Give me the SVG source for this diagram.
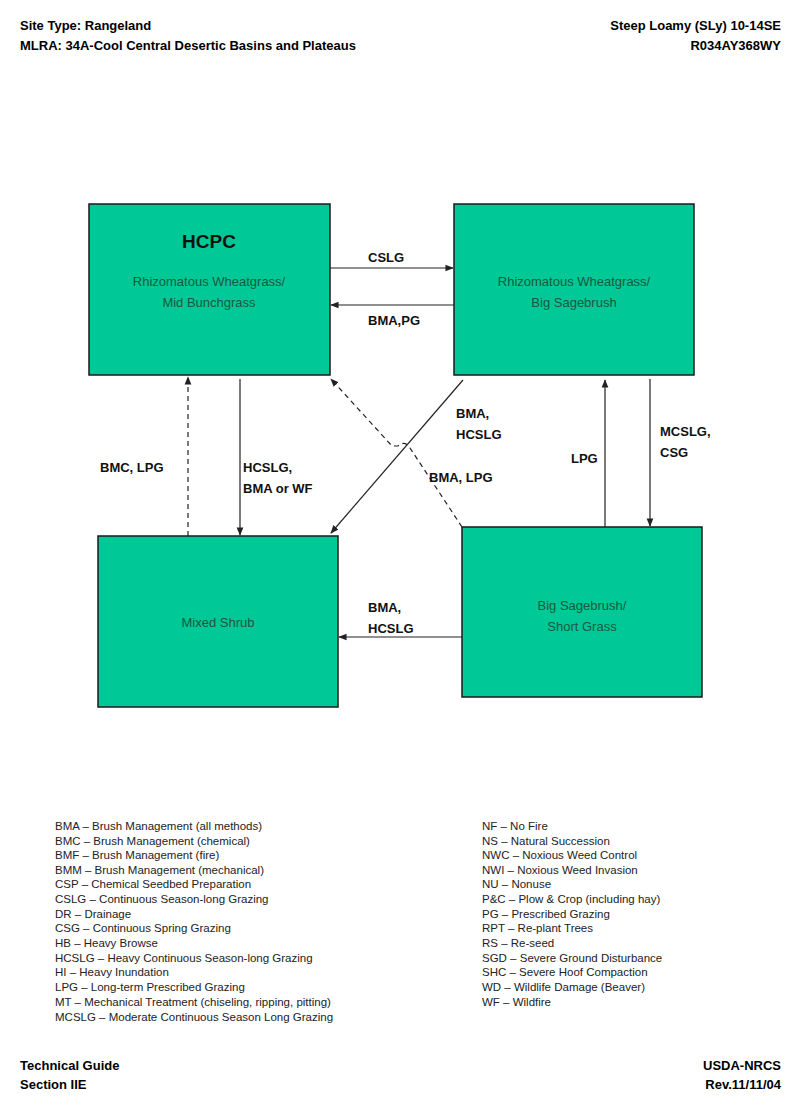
<svg xmlns="http://www.w3.org/2000/svg" width="800" height="1108" viewBox="0 0 800 1108">
<style>
.h{font-family:"Liberation Sans",Arial,sans-serif;font-weight:bold;font-size:13px;fill:#000}
.box{fill:#00c896;stroke:#1a1a1a;stroke-width:1.5}
.bt{font-family:"Liberation Sans",Arial,sans-serif;font-size:13px;fill:#1a5a40;text-anchor:middle}
.lb{font-family:"Liberation Sans",Arial,sans-serif;font-weight:bold;font-size:13px;fill:#111}
.lg{font-family:"Liberation Sans",Arial,sans-serif;font-size:11.5px;fill:#222}
.c{stroke:#222;stroke-width:1.2;fill:none}
.d{stroke-dasharray:5,4}
</style>
<defs><marker id="a" viewBox="0 0 10 10" refX="9" refY="5" markerWidth="7" markerHeight="7" orient="auto"><path d="M0,1 L10,5 L0,9 z" fill="#222"/></marker></defs>
<rect width="800" height="1108" fill="#fff"/>
<text class="h" x="20" y="30">Site Type:  Rangeland</text>
<text class="h" x="20" y="50">MLRA: 34A-Cool Central Desertic Basins and Plateaus</text>
<text class="h" x="781" y="30" text-anchor="end">Steep Loamy (SLy) 10-14SE</text>
<text class="h" x="781" y="50" text-anchor="end">R034AY368WY</text>
<g id="hcpc"><rect class="box" x="89" y="204" width="241" height="171"/>
<text x="209" y="248" text-anchor="middle" font-family="Liberation Sans,Arial,sans-serif" font-weight="bold" font-size="19" fill="#111">HCPC</text>
<text class="bt" x="209" y="286">Rhizomatous Wheatgrass/</text><text class="bt" x="209" y="307">Mid Bunchgrass</text></g>
<g id="rwbs"><rect class="box" x="454" y="204" width="240" height="171"/>
<text class="bt" x="574" y="286">Rhizomatous Wheatgrass/</text><text class="bt" x="574" y="307">Big Sagebrush</text></g>
<g id="ms"><rect class="box" x="98" y="536" width="240" height="171"/>
<text class="bt" x="218" y="627">Mixed Shrub</text></g>
<g id="bssg"><rect class="box" x="462" y="527" width="240" height="170"/>
<text class="bt" x="582" y="610">Big Sagebrush/</text><text class="bt" x="582" y="631">Short Grass</text></g>
<g id="connectors">
<line class="c" x1="330" y1="268" x2="453" y2="268" marker-end="url(#a)"/>
<line class="c" x1="454" y1="305" x2="331" y2="305" marker-end="url(#a)"/>
<line class="c d" x1="188" y1="536" x2="188" y2="377" marker-end="url(#a)"/>
<line class="c" x1="240" y1="379" x2="240" y2="535" marker-end="url(#a)"/>
<line class="c" x1="463" y1="380" x2="331" y2="533" marker-end="url(#a)"/>
<path class="c d" d="M462,527 L410,448 Q405,440 398,446 L392,446 L331,379" marker-end="url(#a)"/>
<line class="c" x1="605" y1="527" x2="605" y2="380" marker-end="url(#a)"/>
<line class="c" x1="650" y1="379" x2="650" y2="526" marker-end="url(#a)"/>
<line class="c" x1="462" y1="637" x2="339" y2="637" marker-end="url(#a)"/>
<text class="lb" x="368" y="262">CSLG</text>
<text class="lb" x="368" y="325">BMA,PG</text>
<text class="lb" x="100" y="472">BMC, LPG</text>
<text class="lb" x="243" y="472">HCSLG,</text><text class="lb" x="243" y="493">BMA or WF</text>
<text class="lb" x="456" y="418">BMA,</text><text class="lb" x="456" y="439">HCSLG</text>
<text class="lb" x="429" y="482">BMA, LPG</text>
<text class="lb" x="571" y="463">LPG</text>
<text class="lb" x="660" y="436">MCSLG,</text><text class="lb" x="660" y="457">CSG</text>
<text class="lb" x="368" y="612">BMA,</text><text class="lb" x="368" y="633">HCSLG</text>
</g>
<g class="lg">
<text x="55" y="830">BMA – Brush Management (all methods)</text>
<text x="55" y="845">BMC – Brush Management (chemical)</text>
<text x="55" y="859">BMF – Brush Management (fire)</text>
<text x="55" y="874">BMM – Brush Management (mechanical)</text>
<text x="55" y="888">CSP – Chemical Seedbed Preparation</text>
<text x="55" y="903">CSLG – Continuous Season-long Grazing</text>
<text x="55" y="918">DR – Drainage</text>
<text x="55" y="932">CSG – Continuous Spring Grazing</text>
<text x="55" y="947">HB – Heavy Browse</text>
<text x="55" y="962">HCSLG – Heavy Continuous Season-long Grazing</text>
<text x="55" y="976">HI – Heavy Inundation</text>
<text x="55" y="991">LPG – Long-term Prescribed Grazing</text>
<text x="55" y="1006">MT – Mechanical Treatment (chiseling, ripping, pitting)</text>
<text x="55" y="1021">MCSLG – Moderate Continuous Season Long Grazing</text>
<text x="482" y="830">NF – No Fire</text>
<text x="482" y="845">NS – Natural Succession</text>
<text x="482" y="859">NWC – Noxious Weed Control</text>
<text x="482" y="874">NWI – Noxious Weed Invasion</text>
<text x="482" y="888">NU – Nonuse</text>
<text x="482" y="903">P&amp;C – Plow &amp; Crop (including hay)</text>
<text x="482" y="918">PG – Prescribed Grazing</text>
<text x="482" y="932">RPT – Re-plant Trees</text>
<text x="482" y="947">RS – Re-seed</text>
<text x="482" y="962">SGD – Severe Ground Disturbance</text>
<text x="482" y="976">SHC – Severe Hoof Compaction</text>
<text x="482" y="991">WD – Wildlife Damage (Beaver)</text>
<text x="482" y="1006">WF – Wildfire</text>
</g>
<text class="h" x="20" y="1070">Technical Guide</text>
<text class="h" x="20" y="1089">Section IIE</text>
<text class="h" x="781" y="1070" text-anchor="end">USDA-NRCS</text>
<text class="h" x="781" y="1089" text-anchor="end">Rev.11/11/04</text>
</svg>
